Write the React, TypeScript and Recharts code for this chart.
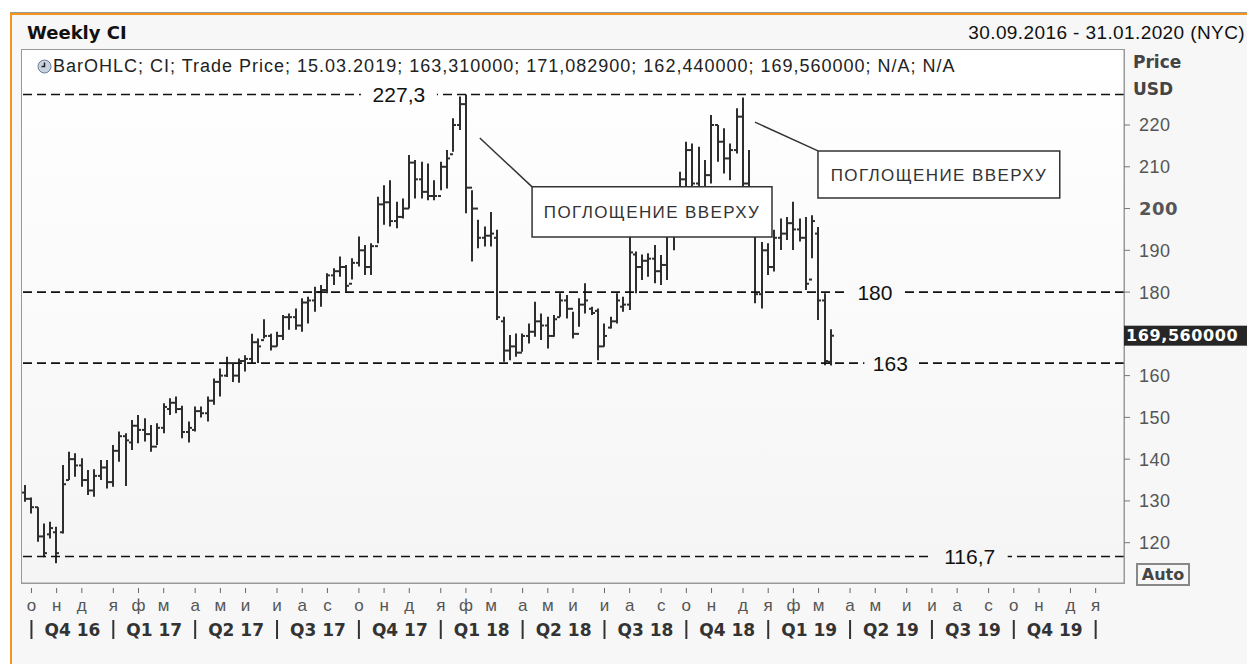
import React from "react";
import { ComposedChart, Bar, XAxis, YAxis, ReferenceLine, ReferenceArea } from "recharts";

// weekly bars, first one is the week ending 30.09.2016
const START = Date.UTC(2016, 8, 30);
const WEEK = 7 * 24 * 3600 * 1000;
const LAST_WEEK = 174; // 31.01.2020

const opens = [
  132, 130.5, 128.5, 121.5, 122, 122.5, 122.5, 135, 140, 138.5, 135, 132.5, 136, 138, 134.5, 142,
  145.5, 144, 148, 147, 146, 143, 147.5, 152, 153.5, 152, 146.5, 147, 151.5, 151, 154, 158.5,
  160, 163, 160, 163.5, 164, 168, 168.5, 169.5, 167, 169.5, 174, 174, 172, 177.5, 178, 180,
  180.5, 184, 185, 186, 182, 187, 190, 186, 191, 201, 201.5, 197, 198, 200, 211, 207,
  204, 203, 203, 210, 213, 220, 225, 205, 200, 193, 193.5, 193, 173, 166, 167, 165.5,
  169.5, 170.5, 173, 172, 169.5, 174, 178, 176, 170, 177, 176, 175.5, 167, 171.5, 173, 176.5,
  177, 189, 186, 187.5, 188, 185, 186.5, 194, 195, 207, 214, 206, 204, 208, 220, 216,
  212, 214, 222, 206, 196, 179.5, 190, 186, 193, 194, 196.5, 195, 193, 183, 194, 178,
  163.31,
];
const highs = [
  133.8, 130.8, 128.5, 124.6, 125, 123.8, 138.6, 141.8, 141.4, 140.2, 137.4, 137.6, 139.8, 139.8, 143.4, 146.6,
  146.2, 149.4, 150.6, 149.8, 148.2, 148.6, 153.4, 154.6, 155, 152.8, 149, 152.6, 152.6, 155, 159.3, 161.7,
  164.5, 162.9, 164.1, 164.9, 170, 168.9, 173.5, 170, 170.5, 174.5, 174.9, 176.1, 178.5, 178.9, 181.3, 181.7,
  184.5, 185.7, 188.5, 186.5, 188.1, 193.3, 191.3, 191.7, 202.8, 205.6, 206.8, 201.6, 202.4, 212.8, 211.6, 211.2,
  210.8, 206.8, 211.2, 214, 221.6, 226.8, 227.3, 204.4, 197.3, 195.7, 199.2, 194.9, 174.1, 169.7, 170.1, 170.1,
  172.5, 177.7, 174.9, 174.1, 174.5, 179.7, 179.3, 175.3, 178.5, 182.1, 176.5, 176.1, 172.5, 174.1, 179.7, 178.9,
  195, 189.7, 189, 189.3, 191.3, 188.9, 195, 196, 208.8, 216, 215.6, 214.8, 211.6, 222.4, 220, 219.2,
  215.6, 224, 226.6, 214, 196, 192, 191.7, 194.9, 197.6, 198, 201.6, 197.6, 198, 198.4, 195.6, 179.7,
  171.08,
];
const lows = [
  129.8, 127, 120.2, 116.5, 121, 115.1, 122.2, 135, 135.8, 133.4, 131.4, 131, 135, 133, 133.4, 139.4,
  133.6, 142.2, 143.8, 144.2, 141.8, 143.4, 146.2, 150.6, 151, 145, 144, 146.6, 150, 149, 153, 155,
  159.7, 158.5, 158.3, 161, 163, 163, 168.9, 166, 167, 168.5, 171, 171, 170.5, 172.5, 175.3, 176.5,
  179.7, 181.7, 183.7, 180.1, 183, 186.1, 184.1, 184.1, 191.7, 196.1, 195.7, 195.3, 197.6, 200, 202.4, 202.4,
  202, 202, 204.4, 204.8, 213.6, 218.8, 198.9, 187.3, 190.5, 190.9, 190.9, 173.3, 163.3, 163.7, 164.5, 165.7,
  167.7, 169.3, 168.5, 166.5, 169.3, 174.1, 173.7, 168.9, 171.7, 174.9, 174.5, 163.7, 166.9, 171.3, 172.5, 175.3,
  175.7, 179.7, 182.9, 183.7, 182.1, 181.7, 182.9, 190, 195, 203, 203, 201, 201, 206, 211.2, 208.4,
  206.8, 213.2, 204, 195, 177.3, 176.1, 184.1, 184.9, 190.1, 192.5, 190.1, 192.1, 180.5, 188.1, 173.3, 162.5,
  162.44,
];
const closes = [
  130.5, 128.5, 121.5, 117.5, 123.5, 117.5, 134, 140, 138.5, 135, 132.5, 136, 138, 134.5, 142, 145.5,
  144.5, 148, 147, 146, 143, 147.5, 152.5, 153.5, 152, 146.5, 147.5, 151.5, 151, 154, 158.5, 160,
  163, 160, 163.5, 164, 168, 167, 169.5, 167, 169.5, 174, 174, 172, 177.5, 178, 180, 180.5,
  184, 185, 186, 181.5, 187, 190, 186, 191, 201, 201.5, 197, 198, 200, 211, 207, 204,
  203, 203, 210, 212, 220, 225, 205, 200, 193, 193.5, 194, 174, 166, 167, 165.5, 169.5,
  170.5, 173, 172, 169.5, 173.5, 178, 176, 170, 177, 178, 175, 167, 169.5, 173, 178, 177,
  189.5, 186, 187.5, 188, 185, 186.5, 194, 195, 207, 214, 206, 204, 208, 220, 216, 212,
  214, 222, 206, 197, 179.5, 190, 186, 193, 194, 196.5, 195, 193, 182, 197, 178, 163.5,
  169.56,
];

const monthLetters = ["я", "ф", "м", "а", "м", "и", "и", "а", "с", "о", "н", "д"];
const quarterLabels = [
  "Q4 16", "Q1 17", "Q2 17", "Q3 17", "Q4 17", "Q1 18", "Q2 18",
  "Q3 18", "Q4 18", "Q1 19", "Q2 19", "Q3 19", "Q4 19",
];
const yTicks = [120, 130, 140, 150, 160, 169.56, 180, 190, 200, 210, 220];
const lastClose = 169.56;
const levelValues = [227.3, 180, 163, 116.7];
const levelTexts = ["227,3", "180", "163", "116,7"];
const annotationText = "ПОГЛОЩЕНИЕ ВВЕРХУ";

const REG = "'Liberation Sans', Arial, sans-serif";
const BOLD = "'DejaVu Sans', Verdana, sans-serif";

const data = opens.map((o, i) => ({
  week: i,
  range: [lows[i], highs[i]],
  open: o,
  high: highs[i],
  low: lows[i],
  close: closes[i],
}));

const weekDate = (i: number) => new Date(START + i * WEEK);

const monthTicks: number[] = [];
for (let i = 1; i <= LAST_WEEK; i++) {
  if (weekDate(i).getUTCMonth() !== weekDate(i - 1).getUTCMonth()) monthTicks.push(i);
}
const quarterStarts = monthTicks.filter((i) => weekDate(i).getUTCMonth() % 3 === 0);
const quarterMids = quarterStarts.slice(0, -1).map((s, k) => (s + quarterStarts[k + 1]) / 2 + 0.001);

// plot background runs from white at the top to light grey at the bottom
const PLOT_TOP = 50;
const PLOT_BOTTOM = 583;
const bgAt = (y: number) => {
  const t = Math.min(1, Math.max(0, (y - PLOT_TOP) / (PLOT_BOTTOM - PLOT_TOP)));
  const c = Math.round(255 - 10 * t);
  return `rgb(${c},${c},${c})`;
};

const OhlcShape = (props: any) => {
  const { x, y, width, height, payload } = props;
  if (!payload || height == null) return null;
  const top = Math.min(y, y + height);
  const bottom = Math.max(y, y + height);
  const span = payload.high - payload.low || 1;
  const py = (v: number) => top + ((payload.high - v) / span) * (bottom - top);
  const cx = Math.round(x + width / 2);
  return (
    <g stroke="#2e2e2e" strokeWidth={2}>
      <line x1={cx} x2={cx} y1={top} y2={bottom} />
      <line x1={cx - 3} x2={cx} y1={py(payload.open)} y2={py(payload.open)} />
      <line x1={cx} x2={cx + 3} y1={py(payload.close)} y2={py(payload.close)} />
    </g>
  );
};

const XTick = (props: any) => {
  const { x, y, payload } = props;
  const v = payload.value;
  if (Number.isInteger(v)) {
    const m = weekDate(v).getUTCMonth();
    return (
      <g>
        <line x1={x} x2={x} y1={y + 5} y2={y + 10} stroke="#666" />
        <text x={x} y={y + 28} textAnchor="middle" fontSize={17} fill="#555" fontFamily={REG}>
          {monthLetters[m]}
        </text>
        {m % 3 === 0 && <line x1={x} x2={x} y1={y + 37} y2={y + 56} stroke="#333" strokeWidth={2} />}
      </g>
    );
  }
  const k = quarterMids.indexOf(v);
  return (
    <text x={x} y={y + 53} textAnchor="middle" fontSize={17} fontWeight="bold" fill="#333" fontFamily={BOLD}>
      {quarterLabels[k]}
    </text>
  );
};

const YTick = (props: any) => {
  const { x, y, payload } = props;
  const v = payload.value;
  if (v === lastClose) {
    return (
      <g>
        <rect x={x} y={y - 10} width={123} height={20} fill="#262626" />
        <text x={x + 2} y={y} dy="0.36em" fontSize={16} fontWeight="bold" fill="#fff" fontFamily={BOLD} letterSpacing={0.6}>
          {lastClose.toFixed(6).replace(".", ",")}
        </text>
      </g>
    );
  }
  return (
    <g>
      <line x1={x} x2={x + 6} y1={y} y2={y} stroke="#777" />
      <text
        x={x + 15}
        y={y}
        dy="0.36em"
        fontSize={18}
        fill="#555"
        letterSpacing={0.5}
        fontWeight={v === 200 ? "bold" : "normal"}
        fontFamily={v === 200 ? BOLD : REG}
      >
        {v}
      </text>
    </g>
  );
};

const levelLabel = (text: string, frac: number) => (props: any) => {
  const { viewBox } = props;
  const cx = viewBox.x + viewBox.width * frac;
  const w = text.length * 12 + 16;
  return (
    <g>
      <rect x={cx - w / 2} y={viewBox.y - 12} width={w} height={24} fill={bgAt(viewBox.y)} />
      <text x={cx} y={viewBox.y} dy="0.36em" textAnchor="middle" fontSize={21} fill="#111" fontFamily={REG}>
        {text}
      </text>
    </g>
  );
};
const levelFracs = [0.342, 0.774, 0.788, 0.86];

const boxLabel = (props: any) => {
  const { viewBox } = props;
  return (
    <text
      x={viewBox.x + viewBox.width / 2}
      y={viewBox.y + viewBox.height / 2}
      dy="0.36em"
      textAnchor="middle"
      fontSize={17}
      letterSpacing={1.4}
      fill="#333"
      fontFamily={REG}
    >
      {annotationText}
    </text>
  );
};

// callout boxes in chart coordinates (week index, price)
const callouts = [
  { from: [72.2, 216.9], to: [80.5, 205.2], box: [80.5, 118.6, 193.2, 205.2] },
  { from: [115.9, 220.7], to: [125.9, 213.8], box: [125.9, 164.3, 202.5, 213.8] },
];

export default function App() {
  return (
    <div style={{ position: "absolute", left: 0, top: 0, width: 1247, height: 664, background: "#fff", overflow: "hidden" }}>
      <div
        style={{
          position: "absolute", left: 10, top: 12, width: 1260, height: 680,
          borderTop: "1px solid #999", boxShadow: "inset 2px 2px 0 #f7941d", background: "#f7f7f7",
        }}
      />
      <div
        style={{
          position: "absolute", left: 21, top: 49, width: 1102, height: 533,
          border: "1px solid #999", background: `linear-gradient(${bgAt(PLOT_TOP)}, ${bgAt(PLOT_BOTTOM)})`,
        }}
      />
      <div style={{ position: "absolute", left: 0, top: 0 }}>
        <ComposedChart width={1247} height={664} data={data} margin={{ top: PLOT_TOP, right: 0, bottom: 0, left: 22 }}>
          <XAxis
            dataKey="week"
            type="number"
            domain={[-0.5, LAST_WEEK + 0.5]}
            allowDataOverflow
            ticks={[...monthTicks, ...quarterMids]}
            interval={0}
            tick={<XTick />}
            tickLine={false}
            tickSize={0}
            tickMargin={0}
            axisLine={{ stroke: "#999" }}
            height={81}
          />
          <YAxis
            orientation="right"
            type="number"
            domain={[110.35, 237.96]}
            allowDataOverflow
            ticks={yTicks}
            interval={0}
            tick={<YTick />}
            tickLine={false}
            tickSize={0}
            tickMargin={0}
            axisLine={{ stroke: "#999" }}
            width={123}
          />
          {levelValues.map((v, k) => (
            <ReferenceLine
              key={v}
              y={v}
              stroke="#111"
              strokeWidth={1.6}
              strokeDasharray="9 5"
              label={levelLabel(levelTexts[k], levelFracs[k])}
            />
          ))}
          <Bar dataKey="range" barSize={6} shape={<OhlcShape />} isAnimationActive={false} />
          {callouts.map((c, k) => (
            <ReferenceLine
              key={"l" + k}
              segment={[{ x: c.from[0], y: c.from[1] }, { x: c.to[0], y: c.to[1] }]}
              stroke="#333"
              strokeWidth={1.5}
              ifOverflow="visible"
            />
          ))}
          {callouts.map((c, k) => (
            <ReferenceArea
              key={"b" + k}
              x1={c.box[0]}
              x2={c.box[1]}
              y1={c.box[2]}
              y2={c.box[3]}
              fill="#ffffff"
              fillOpacity={1}
              stroke="#333"
              strokeWidth={1.5}
              ifOverflow="visible"
              zIndex={1500}
              label={boxLabel}
            />
          ))}
        </ComposedChart>
      </div>
      <div style={{ position: "absolute", left: 27, top: 22, fontFamily: BOLD, fontWeight: "bold", fontSize: 18, color: "#111", lineHeight: "22px" }}>
        Weekly CI
      </div>
      <div style={{ position: "absolute", right: 2, top: 22, fontFamily: REG, fontSize: 19, letterSpacing: 0.4, color: "#111", lineHeight: "22px" }}>
        30.09.2016 - 31.01.2020 (NYC)
      </div>
      <div style={{ position: "absolute", left: 37, top: 56, display: "flex", alignItems: "center", fontFamily: REG, fontSize: 18, letterSpacing: 1, color: "#222", lineHeight: "20px" }}>
        <svg width={15} height={15} style={{ marginRight: 1 }}>
          <circle cx={7.5} cy={7.5} r={6.5} fill="#c9d3e0" stroke="#6b7c93" />
          <path d="M7.5 3.5 V7.5 H4.5" stroke="#222" strokeWidth={1.5} fill="none" />
        </svg>
        BarOHLC; CI; Trade Price; 15.03.2019; 163,310000; 171,082900; 162,440000; 169,560000; N/A; N/A
      </div>
      <div style={{ position: "absolute", left: 1133, top: 49, fontFamily: BOLD, fontWeight: "bold", fontSize: 17, color: "#444", lineHeight: "27px" }}>
        Price
        <br />
        USD
      </div>
      <div
        style={{
          position: "absolute", left: 1136, top: 563, width: 50, height: 19, border: "2px solid #888",
          fontFamily: BOLD, fontWeight: "bold", fontSize: 16, color: "#444", lineHeight: "19px", textAlign: "center", background: "#f7f7f7",
        }}
      >
        Auto
      </div>
    </div>
  );
}
